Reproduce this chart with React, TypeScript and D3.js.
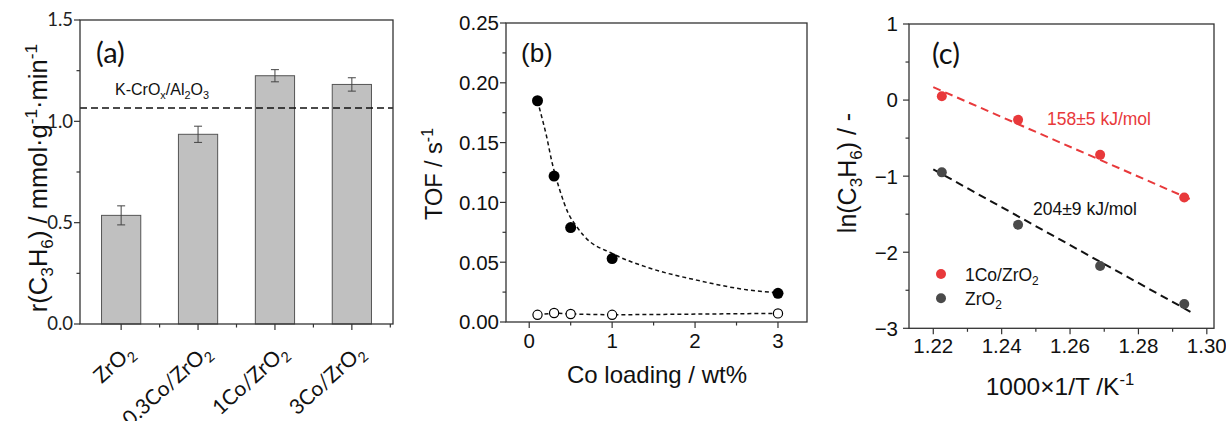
import React from 'react'
import * as d3 from 'd3'

// (a) propene formation rate per catalyst
const catalysts = ['ZrO2', '0.3Co/ZrO2', '1Co/ZrO2', '3Co/ZrO2']
const rate = [0.536, 0.936, 1.225, 1.182]
const rateErr = [0.047, 0.04, 0.03, 0.033]
const refRate = 1.066
const rateTicks = [0, 0.5, 1.0, 1.5]
const rateMinor = [0.25, 0.75, 1.25]

// (b) TOF vs Co loading
const coLoading = [0.1, 0.3, 0.5, 1, 3]
const tofCo = [0.185, 0.122, 0.079, 0.053, 0.024]
const tofSupport = [0.006, 0.0075, 0.0067, 0.006, 0.0072]
const tofFitX = [0.1, 0.13, 0.21, 0.27, 0.37, 0.47, 0.56, 0.66, 1.01, 1.41, 2.02, 2.62, 3.0]
const tofFitY = [0.185, 0.177, 0.155, 0.135, 0.11, 0.091, 0.081, 0.072, 0.057, 0.046, 0.035, 0.027, 0.0245]
const loadTicks = [0, 1, 2, 3]
const loadMinor = [0.5, 1.5, 2.5]
const tofTicks = [0, 0.05, 0.1, 0.15, 0.2, 0.25]
const tofMinor = [0.025, 0.075, 0.125, 0.175, 0.225]

// (c) Arrhenius plot
const invT = [1.2225, 1.2448, 1.2688, 1.2934]
const lnCo = [0.05, -0.26, -0.72, -1.28]
const lnZr = [-0.95, -1.64, -2.18, -2.68]
const fitCoX = [1.22, 1.295]
const fitCoY = [0.17, -1.3]
const fitZrX = [1.22, 1.2955]
const fitZrY = [-0.91, -2.79]
const invTTicks = [1.22, 1.24, 1.26, 1.28, 1.3]
const invTMinor = [1.23, 1.25, 1.27, 1.29]
const lnTicks = [-3, -2, -1, 0, 1]
const lnMinor = [-2.5, -1.5, -0.5, 0.5]

const ARIAL = '"Liberation Sans", Arial, sans-serif'
const LATO = 'Lato, "Open Sans", sans-serif'
const AXIS = '#333'
const RED = '#e8393b'
const GRAY = '#4a4a4a'

type Part = [string, number] // 0 normal, 1 sub, -1 sup

function Rich({ parts, size }: { parts: Part[]; size: number }) {
  let cur = 0
  return (
    <>
      {parts.map(([t, k], i) => {
        const target = k === 1 ? size * 0.25 : k === -1 ? -size * 0.4 : 0
        const dy = target - cur
        cur = target
        return (
          <tspan key={i} dy={dy} fontSize={k ? size * 0.68 : size}>
            {t}
          </tspan>
        )
      })}
    </>
  )
}

function catParts(name: string): Part[] {
  return [[name.slice(0, -1), 0], [name.slice(-1), 1]]
}

function Frame({ x0, x1, y0, y1 }: { x0: number; x1: number; y0: number; y1: number }) {
  return (
    <rect x={x0} y={y0} width={x1 - x0} height={y1 - y0} fill="none" stroke={AXIS} strokeWidth={1.3} />
  )
}

export default function App() {
  // ---------- (a)
  const ax = d3.scaleBand<string>().domain(catalysts).range([80, 393]).paddingInner(0.49).paddingOuter(0.28)
  const ay = d3.scaleLinear().domain([0, 1.5]).range([324, 20])
  const bw = ax.bandwidth()

  // ---------- (b)
  const bx = d3.scaleLinear().domain([-0.28, 3.35]).range([506, 807])
  const by = d3.scaleLinear().domain([0, 0.25]).range([322, 23])
  const fitLine = d3
    .line<number>()
    .x((d, i) => bx(tofFitX[i]))
    .y((d) => by(d))
    .curve(d3.curveMonotoneX)
  const supLine = d3
    .line<number>()
    .x((d, i) => bx(coLoading[i]))
    .y((d) => by(d))

  // ---------- (c)
  const cx = d3.scaleLinear().domain([1.2129, 1.3021]).range([909, 1214])
  const cy = d3.scaleLinear().domain([-3, 1]).range([328.3, 24])
  const fitC = (xs: number[], ys: number[]) =>
    d3
      .line<number>()
      .x((d, i) => cx(xs[i]))
      .y((d) => cy(d))(ys) as string

  return (
    <div style={{ position: 'absolute', left: 0, top: 0 }}>
      <svg width={1226} height={421} style={{ display: 'block', background: '#fff' }}>
        {/* ================= (a) ================= */}
        <g>
          {catalysts.map((c, i) => {
            const x = ax(c) as number
            const cxm = x + bw / 2
            return (
              <g key={c}>
                <rect x={x} y={ay(rate[i])} width={bw} height={ay(0) - ay(rate[i])} fill="#c0c0c0" stroke="#555" strokeWidth={1} />
                <line x1={cxm} x2={cxm} y1={ay(rate[i] - rateErr[i])} y2={ay(rate[i] + rateErr[i])} stroke="#444" strokeWidth={1} />
                <line x1={cxm - 4} x2={cxm + 4} y1={ay(rate[i] - rateErr[i])} y2={ay(rate[i] - rateErr[i])} stroke="#444" strokeWidth={1} />
                <line x1={cxm - 4} x2={cxm + 4} y1={ay(rate[i] + rateErr[i])} y2={ay(rate[i] + rateErr[i])} stroke="#444" strokeWidth={1} />
                <line x1={cxm} x2={cxm} y1={ay(0)} y2={ay(0) + 6} stroke={AXIS} strokeWidth={1.2} />
                <line x1={cxm + ax.step() / 2} x2={cxm + ax.step() / 2} y1={ay(0)} y2={ay(0) + 3.5} stroke={AXIS} strokeWidth={1.2} />
                <text
                  transform={`translate(${cxm + 14},354) rotate(-42)`}
                  textAnchor="end"
                  fontFamily={LATO}
                  fill="#111"
                >
                  <Rich parts={catParts(c)} size={21} />
                </text>
              </g>
            )
          })}
          <line x1={80} x2={393} y1={ay(refRate)} y2={ay(refRate)} stroke="#111" strokeWidth={1.5} strokeDasharray="7,4" />
          <text x={115} y={95} fontFamily={ARIAL} fill="#111">
            <Rich parts={[['K-CrO', 0], ['x', 1], ['/Al', 0], ['2', 1], ['O', 0], ['3', 1]]} size={16} />
          </text>
          <Frame x0={80} x1={393} y0={20} y1={324} />
          {rateTicks.map((t) => (
            <g key={t}>
              <line x1={80} x2={74} y1={ay(t)} y2={ay(t)} stroke={AXIS} strokeWidth={1.2} />
              <text x={73} y={ay(t)} dy="0.35em" textAnchor="end" fontFamily={LATO} fontSize={18.5} fill="#222">
                {t.toFixed(1)}
              </text>
            </g>
          ))}
          {rateMinor.map((t) => (
            <line key={t} x1={80} x2={76.5} y1={ay(t)} y2={ay(t)} stroke={AXIS} strokeWidth={1.2} />
          ))}
          <text x={96} y={63} fontFamily={LATO} fontSize={29} fill="#111">
            (a)
          </text>
          <text transform="translate(47,178) rotate(-90)" textAnchor="middle" fontFamily={ARIAL} fill="#111">
            <Rich
              parts={[
                ['r(C', 0],
                ['3', 1],
                ['H', 0],
                ['6', 1],
                [') / mmol·g', 0],
                ['-1', -1],
                ['·min', 0],
                ['-1', -1],
              ]}
              size={25.5}
            />
          </text>
        </g>

        {/* ================= (b) ================= */}
        <g>
          <path d={fitLine(tofFitY) as string} fill="none" stroke="#111" strokeWidth={1.5} strokeDasharray="4,3" />
          <path d={supLine(tofSupport) as string} fill="none" stroke="#111" strokeWidth={1.5} strokeDasharray="4,3" />
          {coLoading.map((x, i) => (
            <g key={x}>
              <circle cx={bx(x)} cy={by(tofCo[i])} r={5.5} fill="#000" />
              <circle cx={bx(x)} cy={by(tofSupport[i])} r={4.6} fill="#fff" stroke="#000" strokeWidth={1.2} />
            </g>
          ))}
          <Frame x0={506} x1={807} y0={23} y1={322} />
          {loadTicks.map((t) => (
            <g key={t}>
              <line x1={bx(t)} x2={bx(t)} y1={322} y2={328} stroke={AXIS} strokeWidth={1.2} />
              <text x={bx(t)} y={348} textAnchor="middle" fontFamily={ARIAL} fontSize={20.5} fill="#111">
                {t}
              </text>
            </g>
          ))}
          {loadMinor.map((t) => (
            <line key={t} x1={bx(t)} x2={bx(t)} y1={322} y2={325.5} stroke={AXIS} strokeWidth={1.2} />
          ))}
          {tofTicks.map((t) => (
            <g key={t}>
              <line x1={506} x2={500} y1={by(t)} y2={by(t)} stroke={AXIS} strokeWidth={1.2} />
              <text x={499} y={by(t)} dy="0.36em" textAnchor="end" fontFamily={ARIAL} fontSize={20.5} fill="#111">
                {t.toFixed(2)}
              </text>
            </g>
          ))}
          {tofMinor.map((t) => (
            <line key={t} x1={506} x2={502.5} y1={by(t)} y2={by(t)} stroke={AXIS} strokeWidth={1.2} />
          ))}
          <text x={521} y={62} fontFamily={ARIAL} fontSize={26} fill="#111">
            (b)
          </text>
          <text transform="translate(442,174) rotate(-90)" textAnchor="middle" fontFamily={ARIAL} fill="#111">
            <Rich parts={[['TOF / s', 0], ['-1', -1]]} size={23.5} />
          </text>
          <text x={657} y={383} textAnchor="middle" fontFamily={ARIAL} fontSize={24} fill="#111">
            Co loading / wt%
          </text>
        </g>

        {/* ================= (c) ================= */}
        <g>
          <path d={fitC(fitCoX, fitCoY)} stroke={RED} strokeWidth={2} strokeDasharray="8,5" fill="none" />
          <path d={fitC(fitZrX, fitZrY)} stroke="#111" strokeWidth={2} strokeDasharray="8,5" fill="none" />
          {invT.map((x, i) => (
            <g key={x}>
              <circle cx={cx(x)} cy={cy(lnCo[i])} r={5} fill={RED} />
              <circle cx={cx(x)} cy={cy(lnZr[i])} r={5} fill={GRAY} />
            </g>
          ))}
          <text x={1047} y={125} fontFamily={ARIAL} fontSize={17.5} fill={RED}>
            158±5 kJ/mol
          </text>
          <text x={1033} y={215} fontFamily={ARIAL} fontSize={17.5} fill="#111">
            204±9 kJ/mol
          </text>
          <circle cx={941} cy={274} r={5} fill={RED} />
          <text x={965} y={280.5} fontFamily={ARIAL} fill="#111">
            <Rich parts={[['1Co/ZrO', 0], ['2', 1]]} size={17.5} />
          </text>
          <circle cx={941} cy={298.3} r={5} fill={GRAY} />
          <text x={965} y={305} fontFamily={ARIAL} fill="#111">
            <Rich parts={[['ZrO', 0], ['2', 1]]} size={17.5} />
          </text>
          <Frame x0={909} x1={1214} y0={24} y1={328.3} />
          {invTTicks.map((t) => (
            <g key={t}>
              <line x1={cx(t)} x2={cx(t)} y1={328.3} y2={334.3} stroke={AXIS} strokeWidth={1.2} />
              <text x={cx(t)} y={353} textAnchor="middle" fontFamily={ARIAL} fontSize={20.5} fill="#111">
                {t.toFixed(2)}
              </text>
            </g>
          ))}
          {invTMinor.map((t) => (
            <line key={t} x1={cx(t)} x2={cx(t)} y1={328.3} y2={331.8} stroke={AXIS} strokeWidth={1.2} />
          ))}
          {lnTicks.map((t) => (
            <g key={t}>
              <line x1={909} x2={903} y1={cy(t)} y2={cy(t)} stroke={AXIS} strokeWidth={1.2} />
              <text x={898} y={cy(t)} dy="0.36em" textAnchor="end" fontFamily={ARIAL} fontSize={20.5} fill="#111">
                {t < 0 ? '\u2212' + Math.abs(t) : t}
              </text>
            </g>
          ))}
          {lnMinor.map((t) => (
            <line key={t} x1={909} x2={905.5} y1={cy(t)} y2={cy(t)} stroke={AXIS} strokeWidth={1.2} />
          ))}
          <text x={932} y={64} fontFamily={LATO} fontSize={29} fill="#111">
            (c)
          </text>
          <text transform="translate(856,173) rotate(-90)" textAnchor="middle" fontFamily={ARIAL} fill="#111">
            <Rich parts={[['ln(C', 0], ['3', 1], ['H', 0], ['6', 1], [') / -', 0]]} size={25} />
          </text>
          <text x={1060} y={395} textAnchor="middle" fontFamily={ARIAL} fill="#111">
            <Rich parts={[['1000×1/T /K', 0], ['-1', -1]]} size={24.5} />
          </text>
        </g>
      </svg>
    </div>
  )
}
